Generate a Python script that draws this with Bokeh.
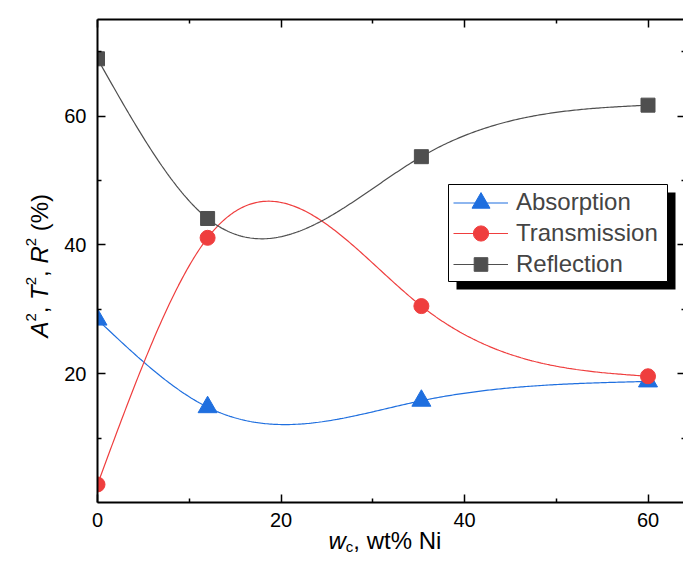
import numpy as np
from bokeh.plotting import figure
from bokeh.models import (Range1d, LinearAxis, FixedTicker, Legend, LegendItem,
                          BoxAnnotation, Label)
from bokeh.embed import file_html
from bokeh.resources import INLINE

# ---- data ----
wt_ni = [0, 12, 35.3, 60]
absorption = [28.4, 14.8, 15.8, 18.8]
transmission = [2.8, 41.1, 30.5, 19.6]
reflection = [68.9, 44.1, 53.7, 61.7]

x_major = [0, 20, 40, 60]
x_minor = [10, 30, 50]
y_major = [20, 40, 60]
y_minor = [10, 30, 50, 70]
Y_TOP = 75

BLUE = "#1f6fdf"
RED = "#ef3e3e"
GRAY = "#4f4f4f"
FONT = "Liberation Sans"


def natural_spline(xs, ys, num=300):
    """Smooth connecting line through the data points (natural cubic spline)."""
    xs = np.asarray(xs, float)
    ys = np.asarray(ys, float)
    n = len(xs)
    h = np.diff(xs)
    A = np.zeros((n, n))
    b = np.zeros(n)
    A[0, 0] = 1
    A[-1, -1] = 1
    for i in range(1, n - 1):
        A[i, i - 1] = h[i - 1]
        A[i, i] = 2 * (h[i - 1] + h[i])
        A[i, i + 1] = h[i]
        b[i] = 6 * ((ys[i + 1] - ys[i]) / h[i] - (ys[i] - ys[i - 1]) / h[i - 1])
    M = np.linalg.solve(A, b)
    xx = np.linspace(xs[0], xs[-1], num)
    idx = np.clip(np.searchsorted(xs, xx) - 1, 0, n - 2)
    x0 = xs[idx]
    x1 = xs[idx + 1]
    hh = x1 - x0
    t0 = x1 - xx
    t1 = xx - x0
    yy = (M[idx] * t0 ** 3 / (6 * hh) + M[idx + 1] * t1 ** 3 / (6 * hh)
          + (ys[idx] / hh - M[idx] * hh / 6) * t0
          + (ys[idx + 1] / hh - M[idx + 1] * hh / 6) * t1)
    return xx, yy


# ---- geometry: the frame fills the canvas, axes sit at fixed locations ----
W, H = 683, 559
X0_PX, Y0_PX = 97, 502            # pixel of data (0, 0)
PXX = (647.5 - 97) / 60           # px per x unit
PXY = (502 - 115.6) / 60          # px per y unit
X_MIN, X_MAX = -X0_PX / PXX, (W - X0_PX) / PXX
Y_MIN, Y_MAX = -(H - Y0_PX) / PXY, Y0_PX / PXY
X_RIGHT = (684.5 - X0_PX) / PXX   # right frame line (just at the canvas edge)


def px_x(X):
    return (X - X0_PX) / PXX


def px_y(Y):
    return (Y0_PX - Y) / PXY


p = figure(width=W, height=H, x_range=Range1d(X_MIN, X_MAX), y_range=Range1d(Y_MIN, Y_MAX),
           output_backend="svg", toolbar_location=None,
           x_axis_location=None, y_axis_location=None,
           min_border=0, min_border_left=0, min_border_right=0,
           min_border_top=0, min_border_bottom=0)
p.xgrid.visible = False
p.ygrid.visible = False
p.outline_line_color = None
p.background_fill_color = "white"
p.border_fill_color = "white"

xt = FixedTicker(ticks=x_major, minor_ticks=x_minor)
yt = FixedTicker(ticks=y_major, minor_ticks=y_minor)


def make_axis(ticker, loc, bounds, show_labels, ticks):
    ax = LinearAxis(ticker=ticker, fixed_location=loc, bounds=bounds)
    ax.axis_line_width = 2
    ax.axis_line_color = "black"
    ax.major_tick_line_width = 1.5
    ax.minor_tick_line_width = 1.5
    ax.major_tick_in = 8
    ax.major_tick_out = 0
    ax.minor_tick_in = 4
    ax.minor_tick_out = 0
    ax.major_tick_line_color = "black"
    ax.minor_tick_line_color = "black"
    if show_labels:
        ax.major_label_text_font = FONT
        ax.major_label_text_font_size = "20px"
        ax.major_label_text_color = "black"
    else:
        ax.major_label_overrides = {t: "" for t in ticks}
        ax.major_label_text_font_size = "0px"
        ax.major_label_standoff = 0
    return ax


bottom = make_axis(xt, 0, (0, X_RIGHT), True, x_major)
bottom.major_label_standoff = 10
p.add_layout(bottom, "below")
left = make_axis(yt, 0, (0, Y_TOP), True, y_major)
left.major_label_standoff = 11
p.add_layout(left, "left")
p.add_layout(make_axis(xt, Y_TOP, (0, X_RIGHT), False, x_major), "above")
p.add_layout(make_axis(yt, X_RIGHT, (0, Y_TOP), False, y_major), "right")

# ---- curves and markers ----
series = [("Absorption", absorption, BLUE, "triangle", 19),
          ("Transmission", transmission, RED, "circle", 15),
          ("Reflection", reflection, GRAY, "square", 14)]
items = []
for name, ys, col, mk, sz in series:
    sx, sy = natural_spline(wt_ni, ys)
    lr = p.line(sx, sy, line_color=col, line_width=1.2)
    mr = p.scatter(wt_ni, ys, marker=mk, size=sz, fill_color=col, line_color=col)
    items.append(LegendItem(label=name, renderers=[lr, mr]))

# markers at x = 0 are cut at the plot box edge, as in the reference
p.add_layout(BoxAnnotation(right=0, fill_color="white", fill_alpha=1,
                           line_color=None, level="glyph"))

# ---- legend: framed box with a drop shadow, one row per series ----
BOX_L, BOX_T, BOX_R, BOX_B, SH = 448, 184, 667, 281, 8
p.add_layout(BoxAnnotation(left=px_x(BOX_L + SH), right=px_x(BOX_R + SH),
                           top=px_y(BOX_T + SH), bottom=px_y(BOX_B + SH),
                           fill_color="black", fill_alpha=1, line_color=None))
p.add_layout(BoxAnnotation(left=px_x(BOX_L), right=px_x(BOX_R),
                           top=px_y(BOX_T), bottom=px_y(BOX_B),
                           fill_color="white", fill_alpha=1,
                           line_color="black", line_width=1, line_alpha=1))

row_centers = [202, 233, 264]
row_heights = [45, 38, 34]   # sets the legend marker size (0.4 x height)
for item, cy, hgt in zip(items, row_centers, row_heights):
    lg = Legend(items=[item], location=(453, H - (cy + hgt / 2)),
                border_line_color=None, background_fill_alpha=0,
                padding=0, spacing=0, margin=0, glyph_width=55, glyph_height=hgt,
                label_height=hgt, label_standoff=8, label_text_font=FONT,
                label_text_font_size="24px", label_text_baseline="middle")
    p.add_layout(lg)


# ---- axis titles (rich text built from labels; X, Y = canvas px of baseline start) ----
def lab(text, X, Y, size, style="normal", angle=0.0):
    p.add_layout(Label(x=X, y=H - Y, x_units="screen", y_units="screen",
                       text=text, text_font=FONT, text_font_size=size,
                       text_font_style=style, text_color="black", angle=angle,
                       text_align="left", text_baseline="alphabetic"))


# x title: w_c, wt% Ni
XB = 540
lab("w", 328, XB, "24px", "italic")
lab("c", 345.3, XB + 6, "15px")
lab(", wt% Ni", 352.8, XB, "24px")

# y title: A², T², R² (%)  (reads bottom to top)
a = np.pi / 2
xa, xs_ = 39, 30
start = 337
lab("A", xa, start, "24px", "italic", a)
lab("2", xs_, start - 16.0, "15px", "normal", a)
lab(",", xa, start - 24.3, "24px", "normal", a)
lab("T", xa, start - 37.6, "24px", "italic", a)
lab("2", xs_, start - 52.3, "15px", "normal", a)
lab(",", xa, start - 60.6, "24px", "normal", a)
lab("R", xa, start - 73.9, "24px", "italic", a)
lab("2", xs_, start - 91.2, "15px", "normal", a)
lab("(%)", xa, start - 106.2, "24px", "normal", a)

open("out.html", "w").write(file_html(p, INLINE))
